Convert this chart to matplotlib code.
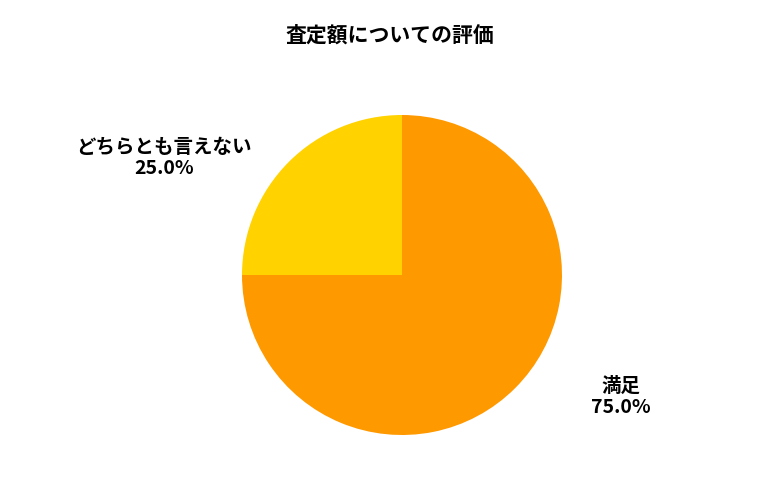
import matplotlib
matplotlib.use("Agg")
import matplotlib.pyplot as plt

plt.rcParams['font.family'] = ['Noto Sans CJK JP', 'DejaVu Sans']

labels = ["満足", "どちらとも言えない"]
values = [75.0, 25.0]
colors = ["#FF9900", "#FFD200"]
title = "査定額についての評価"

fig = plt.figure(figsize=(7.8, 5.0), dpi=100)
ax = fig.add_axes([(402 - 160) / 780, (500 - 275 - 160) / 500, 320 / 780, 320 / 500])
wedges, _ = ax.pie(values, colors=colors, startangle=90, counterclock=False,
                   radius=1.0)
ax.set_xlim(-1, 1); ax.set_ylim(-1, 1)
ax.set_aspect('equal')

positions = [(1.37, -0.76), (-1.49, 0.73)]
for lab, v, (x, y) in zip(labels, values, positions):
    ax.text(x, y, f"{lab}\n{v:.1f}%", ha='center', va='center', fontsize=14,
            fontweight='bold', linespacing=1.15, clip_on=False)

fig.text(0.5, 1 - 35 / 500, title, ha='center', va='center', fontsize=15, fontweight='bold')
fig.savefig("out.png", dpi=100)
